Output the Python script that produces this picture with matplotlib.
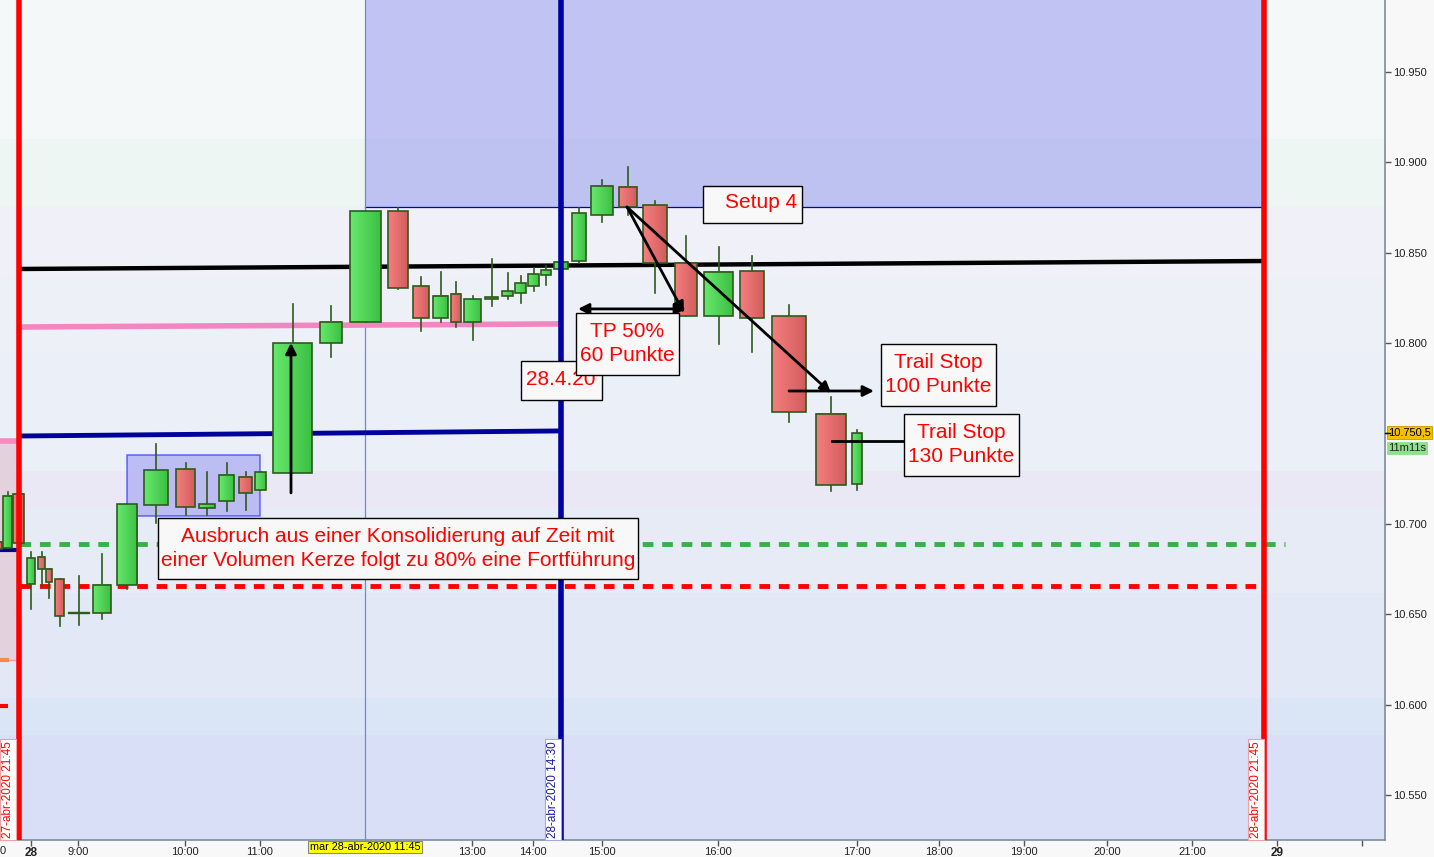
import numpy as np
import matplotlib.pyplot as plt
from matplotlib.patches import Rectangle
from matplotlib.colors import LinearSegmentedColormap

# Kerzen (Breite = Volumen), Zeitachse in Balken-Einheiten
bar_start = [-4, 3.3, 13.3, 27.3, 38.3, 46.3, 55.3, 68.3, 93.3, 117.3, 144.3, 176.3, 199.3, 219.3,
             239.3, 255.3, 273.3, 320.3, 350.3, 388.3, 413, 433.3, 451.3, 464.3, 485.3, 502.3,
             515.3, 528.3, 541.3, 554.3, 572.3, 591.3, 618.7, 642.7, 674.7, 704.3, 740.3, 772.3,
             816.3, 852.3]
bar_end = [2, 11.7, 24.3, 34.7, 44.7, 51.7, 63.7, 89, 110.7, 137.3, 167.7, 194.7, 214.7, 233.7,
           251.7, 265.7, 311.7, 342.3, 380.7, 407.7, 428.7, 447.7, 460.7, 480.7, 498.3, 512.7,
           525.7, 538.7, 550.7, 567.7, 585.7, 612.7, 636.7, 666.7, 696.7, 732.7, 763.7, 805.7,
           845.7, 861.7]
opens = [10.6900, 10.6865, 10.7165, 10.6669, 10.6817, 10.6749, 10.6693, 10.6509, 10.6505, 10.6660,
         10.7103, 10.7302, 10.7088, 10.7125, 10.7258, 10.7186, 10.7280, 10.7999, 10.8115, 10.8729,
         10.8314, 10.8137, 10.8270, 10.8119, 10.8244, 10.8262, 10.8276, 10.8318, 10.8379, 10.8408,
         10.8453, 10.8707, 10.8862, 10.8762, 10.8442, 10.8148, 10.8397, 10.8148, 10.7606, 10.7219]
highs = [10.6902, 10.7178, 10.7168, 10.6844, 10.6844, 10.6752, 10.6695, 10.6712, 10.6833, 10.7110,
         10.7442, 10.7335, 10.7287, 10.7337, 10.7287, 10.7285, 10.8216, 10.8205, 10.8730, 10.8748,
         10.8366, 10.8393, 10.8338, 10.8261, 10.8465, 10.8388, 10.8370, 10.8416, 10.8427, 10.8450,
         10.8746, 10.8902, 10.8974, 10.8786, 10.8593, 10.8532, 10.8480, 10.8209, 10.7700, 10.7519]
lows = [10.6858, 10.6865, 10.6890, 10.6531, 10.6652, 10.6592, 10.6437, 10.6442, 10.6475, 10.6638,
        10.7003, 10.7049, 10.7049, 10.7071, 10.7078, 10.7186, 10.7280, 10.7925, 10.8115, 10.8299,
        10.8069, 10.8117, 10.8089, 10.8019, 10.8207, 10.8242, 10.8224, 10.8290, 10.8323, 10.8405,
        10.8445, 10.8672, 10.8709, 10.8279, 10.8148, 10.7997, 10.7953, 10.7562, 10.7184, 10.7186]
closes = [10.6861, 10.7153, 10.6893, 10.6810, 10.6749, 10.6677, 10.6492, 10.6510, 10.6660, 10.7108,
          10.7296, 10.7092, 10.7110, 10.7269, 10.7169, 10.7285, 10.7999, 10.8119, 10.8729, 10.8307,
          10.8137, 10.8259, 10.8115, 10.8242, 10.8255, 10.8287, 10.8331, 10.8381, 10.8403, 10.8447,
          10.8718, 10.8868, 10.8751, 10.8442, 10.8150, 10.8392, 10.8137, 10.7617, 10.7213, 10.7501]

# Linien / Zonen
black_line = [10.8410, 10.8454]
pink_line = [10.8089, 10.8106]
blue_line = [10.7486, 10.7514]
green_dash = 10.6889
red_dash = 10.6656
setup_zone = [10.8751, 10.995]
konsol_zone = [10.7044, 10.7381]
last_price = 10.7505

y_ticks = [10.55, 10.60, 10.65, 10.70, 10.75, 10.80, 10.85, 10.90, 10.95]
x_tick_pos = [31, 78, 185, 260, 365, 398, 472, 533, 602, 718, 857, 939, 1024, 1107, 1192, 1277, 1362]
x_tick_lab = ['28', '9:00', '10:00', '11:00', '', '', '13:00', '14:00', '15:00', '16:00', '17:00',
              '18:00', '19:00', '20:00', '21:00', '29', '']

# Hintergrund-Bänder (Volumenprofil)
band_edges = [10.5251, 10.5830, 10.6034, 10.6615, 10.7081, 10.7291, 10.7944, 10.8358, 10.8751, 10.9128, 10.9898]
band_colors = ['#d8dff6', '#dae5f5', '#e2e8f6', '#e6ebf6', '#ebe8f6', '#eaeff8', '#eef0f8',
               '#f0f0f8', '#edf6f3', '#f5f8f8']

fig = plt.figure(figsize=(14.34, 8.57), dpi=100, facecolor='#f8f8f8')
ax = fig.add_axes([0, 17 / 857, 1385 / 1434, 840 / 857])

for i in range(len(band_colors)):
    ax.axhspan(band_edges[i], band_edges[i + 1], color=band_colors[i], lw=0, zorder=0)

# Setup-Zone oben
ax.add_patch(Rectangle((365, setup_zone[0]), 1262 - 365, setup_zone[1] - setup_zone[0],
                       facecolor='#8f8ff0', alpha=0.5, lw=0, zorder=1))
ax.plot([365, 1262], [setup_zone[0]] * 2, color='#0000cc', lw=0.9, zorder=2)
# Konsolidierungsbox
ax.add_patch(Rectangle((127, konsol_zone[0]), 133, konsol_zone[1] - konsol_zone[0],
                       facecolor='#8f8ff0', alpha=0.5, edgecolor='#0000ff', lw=1.2, zorder=2))
# rosa Zone ganz links
ax.add_patch(Rectangle((-2, 10.6247), 20, 10.7464 - 10.6247, facecolor='#e3d2de',
                       edgecolor='#ff9a9a', lw=1, zorder=1))
ax.plot([0, 18], [10.7458, 10.7458], color='#f48cc0', lw=4, zorder=2)
ax.plot([0, 18], [10.6858, 10.6858], color='#00009a', lw=3, zorder=2)
ax.plot([0, 7], [10.6247, 10.6247], color='#f8884c', lw=3, zorder=2)
ax.plot([0, 8], [10.5992, 10.5992], color='red', lw=3, ls=(0, (2, 1)), zorder=2)

# dünne Cursorlinie
ax.axvline(365, color='#6c8ad0', lw=0.9, zorder=2)

# Linien
ax.plot([20, 1263], black_line, color='black', lw=3.2, zorder=5)
ax.plot([20, 560], pink_line, color='#f386c0', lw=4, zorder=3)
ax.plot([20, 560], blue_line, color='#00009a', lw=3.5, zorder=3)
ax.plot([20, 1285], [green_dash] * 2, color='#33b344', lw=3.5, ls=(0, (2.2, 1.8)), zorder=3)
ax.plot([20, 1263], [red_dash] * 2, color='#ff0000', lw=3.5, ls=(0, (2.2, 1.8)), zorder=3)

# Kerzen mit leichtem Farbverlauf
edge = '#2e5a1c'
green_cm = LinearSegmentedColormap.from_list('g', ['#66e86c', '#3cc044'])
red_cm = LinearSegmentedColormap.from_list('r', ['#f47e7e', '#d45c5c'])
grad = np.linspace(0, 1, 32).reshape(1, -1)
for i in range(len(opens)):
    xc = (bar_start[i] + bar_end[i]) / 2
    ax.plot([xc, xc], [lows[i], highs[i]], color=edge, lw=1.2, zorder=6)
    lo = min(opens[i], closes[i])
    hi = max(opens[i], closes[i])
    if hi - lo < 0.0003:
        ax.add_patch(Rectangle((bar_start[i], lo - 0.0002), bar_end[i] - bar_start[i], 0.0004,
                               facecolor=edge, edgecolor=edge, lw=1, zorder=7))
        continue
    cm = green_cm if closes[i] >= opens[i] else red_cm
    ax.imshow(grad, cmap=cm, extent=(bar_start[i], bar_end[i], lo, hi), aspect='auto',
              interpolation='bilinear', zorder=7)
    ax.add_patch(Rectangle((bar_start[i], lo), bar_end[i] - bar_start[i], hi - lo,
                           facecolor='none', edgecolor=edge, lw=1.2, zorder=7.5))

ax.set_xlim(0, 1385)
ax.set_ylim(10.5251, 10.9898)
ax.set_aspect('auto')

# vertikale Markierungen
ax.axvline(19, color='#ff0000', lw=4, zorder=8)
ax.axvline(1264, color='#ff0000', lw=4, zorder=8)
ax.axvline(561, color='#0000a0', lw=4, zorder=8)

lab_font = ['Liberation Sans', 'DejaVu Sans']
for xv, txt, c, ec in [(8, '27-abr-2020 21:45', '#ff0000', '#f4a0a0'),
                       (553, '28-abr-2020 14:30', '#1a1aa0', '#a8a8e0'),
                       (1256, '28-abr-2020 21:45', '#ff0000', '#f4a0a0')]:
    ax.text(xv, 10.5262, txt, rotation=90, ha='center', va='bottom', fontsize=8.5, color=c,
            family=lab_font, zorder=9,
            bbox=dict(boxstyle='square,pad=0.15', facecolor='white', edgecolor=ec, lw=0.8))

# Pfeile
arrow_kw = dict(arrowstyle='-|>', color='black', lw=2, mutation_scale=16, shrinkA=0, shrinkB=0)
ax.annotate('', xy=(291, 10.8001), xytext=(291, 10.7171), arrowprops=arrow_kw, zorder=10)
ax.annotate('', xy=(684, 10.8167), xytext=(627, 10.8753), arrowprops=arrow_kw, zorder=10)
ax.annotate('', xy=(831, 10.7724), xytext=(627, 10.8753), arrowprops=arrow_kw, zorder=10)
ax.annotate('', xy=(874, 10.7735), xytext=(789, 10.7735), arrowprops=arrow_kw, zorder=10)
ax.annotate('', xy=(686, 10.8189), xytext=(578, 10.8189),
            arrowprops=dict(arrowstyle='<|-|>', color='black', lw=2, mutation_scale=16,
                            shrinkA=0, shrinkB=0), zorder=10)
ax.plot([832, 904], [10.7459, 10.7459], color='black', lw=2, zorder=10)

# Notizen
note_font = ['Liberation Sans', 'DejaVu Sans']


def note(x0, x1, y0, y1, tx, ty, text, z=11):
    ax.add_patch(Rectangle((x0, y0), x1 - x0, y1 - y0, facecolor='#f8f8f8',
                           edgecolor='black', lw=1, zorder=z))
    ax.text(tx, ty, text, ha='center', va='center', color='#ff0000', fontsize=15,
            family=note_font, linespacing=1.32, zorder=z + 0.5)


note(703, 802, 10.8665, 10.8869, 761, 10.8775, 'Setup 4')
note(521, 602, 10.7685, 10.7901, 561, 10.7796, '28.4.20')
note(576, 679, 10.7824, 10.8167, 627, 10.7998, 'TP 50%\n60 Punkte', z=12)
note(881, 996, 10.7652, 10.7995, 938, 10.7826, 'Trail Stop\n100 Punkte')
note(904, 1019, 10.7265, 10.7608, 961, 10.7440, 'Trail Stop\n130 Punkte')
note(158, 638, 10.6695, 10.7032, 398, 10.6865,
     'Ausbruch aus einer Konsolidierung auf Zeit mit\neiner Volumen Kerze folgt zu 80% eine Fortführung')

# Achsen
for s in ['top', 'left']:
    ax.spines[s].set_visible(False)
for s in ['right', 'bottom']:
    ax.spines[s].set_color('#7d8c9c')
    ax.spines[s].set_linewidth(1.2)
ax.yaxis.tick_right()
ax.set_yticks(y_ticks)
ax.set_yticklabels(['' if v == 10.75 else f'{v:.3f}' for v in y_ticks])
ax.set_xticks(x_tick_pos)
ax.set_xticklabels(x_tick_lab)
ax.tick_params(axis='both', colors='#555555', labelcolor='#222222', labelsize=8, length=4, width=1)
ax.tick_params(axis='x', pad=1)
ax.tick_params(axis='y', pad=2)
for lab in ax.get_xticklabels() + ax.get_yticklabels():
    lab.set_family(lab_font)
    if lab.get_text() in ('28', '29'):
        lab.set_fontweight('bold')
        lab.set_fontsize(8.5)

ax.text(365, -0.0025, 'mar 28-abr-2020 11:45', transform=ax.get_xaxis_transform(), ha='center',
        va='top', fontsize=7.8, color='black', family=lab_font,
        bbox=dict(boxstyle='square,pad=0.12', facecolor='#ffff00', edgecolor='#888888', lw=0.8))
ax.text(0, -0.007, '0', transform=ax.get_xaxis_transform(), ha='left', va='top', fontsize=8,
        family=lab_font, color='#222222')

ax.text(1.0022, last_price, '10.750,5', transform=ax.get_yaxis_transform(), ha='left',
        va='center', fontsize=8, color='black', family=lab_font,
        bbox=dict(boxstyle='square,pad=0.1', facecolor='#f5c000', edgecolor='#c89a00', lw=0.6))
ax.text(1.0022, last_price - 0.0085, '11m11s', transform=ax.get_yaxis_transform(), ha='left',
        va='center', fontsize=8, color='#222222', family=lab_font,
        bbox=dict(boxstyle='square,pad=0.1', facecolor='#8ee08e', edgecolor='#8ee08e', lw=0.6))
ax.plot([1385, 1390], [last_price] * 2, color='black', lw=1, clip_on=False, zorder=12)

fig.savefig('out.png', dpi=100, facecolor=fig.get_facecolor())
